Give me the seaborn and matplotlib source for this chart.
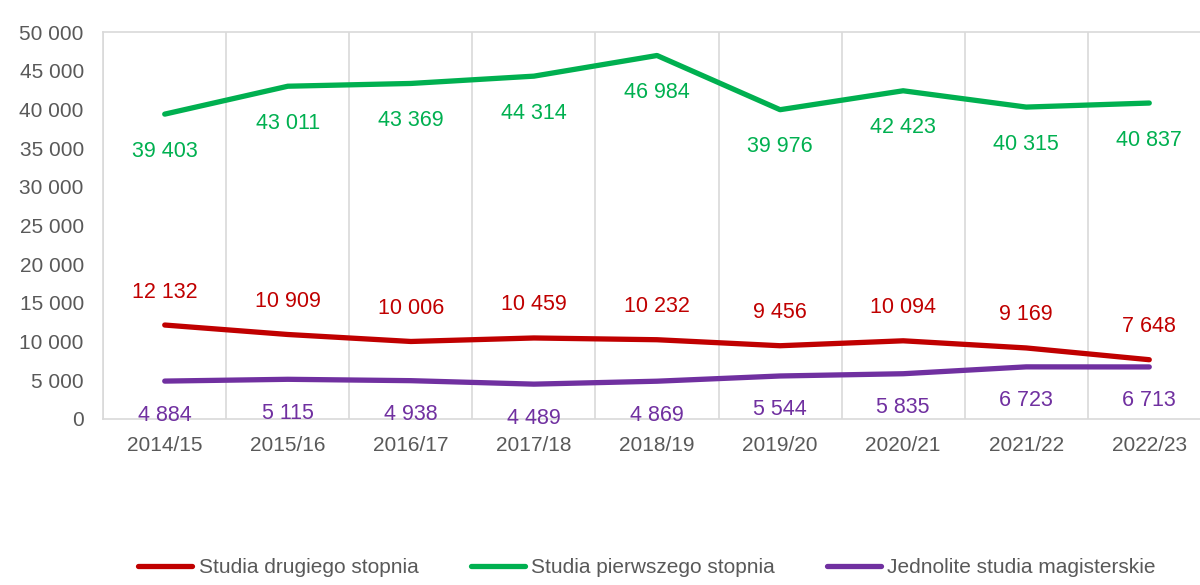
import numpy as np
import pandas as pd
import matplotlib
matplotlib.use("Agg")
import matplotlib.pyplot as plt
from matplotlib.ticker import FuncFormatter, MultipleLocator
import seaborn as sns

years = ["2014/15", "2015/16", "2016/17", "2017/18", "2018/19",
         "2019/20", "2020/21", "2021/22", "2022/23"]
drugiego = [12132, 10909, 10006, 10459, 10232, 9456, 10094, 9169, 7648]
pierwszego = [39403, 43011, 43369, 44314, 46984, 39976, 42423, 40315, 40837]
jednolite = [4884, 5115, 4938, 4489, 4869, 5544, 5835, 6723, 6713]

series = ["Studia drugiego stopnia", "Studia pierwszego stopnia",
          "Jednolite studia magisterskie"]
colors = ["#C00000", "#00B050", "#7030A0"]
offsets = [33, -37, -34]  # label offset in px: above / below the line

df = pd.DataFrame({
    "rok": years * 3,
    "x": list(range(len(years))) * 3,
    "value": drugiego + pierwszego + jednolite,
    "series": [s for s in series for _ in years],
})

sns.set_style("white")
plt.rcParams["font.family"] = ["Liberation Sans Narrow", "Liberation Sans", "DejaVu Sans"]

fig = plt.figure(figsize=(12, 5.85), dpi=100)
ax = fig.add_axes([0.086, 0.284, 0.923, 0.661])

sns.lineplot(data=df, x="x", y="value", hue="series", hue_order=series,
             palette=colors, linewidth=3.8, ax=ax, legend=True, sort=False)

for name, vals, col, off in zip(series, [drugiego, pierwszego, jednolite], colors, offsets):
    for i, v in enumerate(vals):
        ax.annotate(f"{v:,}".replace(",", " "), (i, v), xytext=(0, off * 0.72),
                    textcoords="offset points", ha="center", va="center",
                    color=col, fontsize=15.5)

ax.set_xlim(-0.5, len(years) - 0.5)
ax.set_ylim(0, 50000)
ax.yaxis.set_major_locator(MultipleLocator(5000))
ax.yaxis.set_major_formatter(FuncFormatter(lambda v, p: f"{int(v):,}".replace(",", " ")))
ax.set_xticks(range(len(years)))
ax.set_xticklabels(years)
ax.set_xticks(np.arange(-0.5, len(years), 1), minor=True)
ax.grid(False)
ax.grid(True, which="minor", axis="x", color="#D9D9D9", linewidth=1.2)
ax.tick_params(axis="both", which="both", length=0, labelsize=15, labelcolor="#595959")
ax.tick_params(axis="x", pad=12)
ax.tick_params(axis="y", pad=14)
ax.set_xlabel("")
ax.set_ylabel("")
for s in ax.spines.values():
    s.set_color("#D9D9D9")
    s.set_linewidth(1.2)

h, l = ax.get_legend_handles_labels()
ax.legend(h, l, loc="center", bbox_to_anchor=(0.5 - 0.009, -0.385), ncol=3,
          frameon=False, fontsize=15, handlelength=2.6, handletextpad=0.3,
          columnspacing=2.5, labelcolor="#595959")

fig.savefig("out.png", dpi=100)
